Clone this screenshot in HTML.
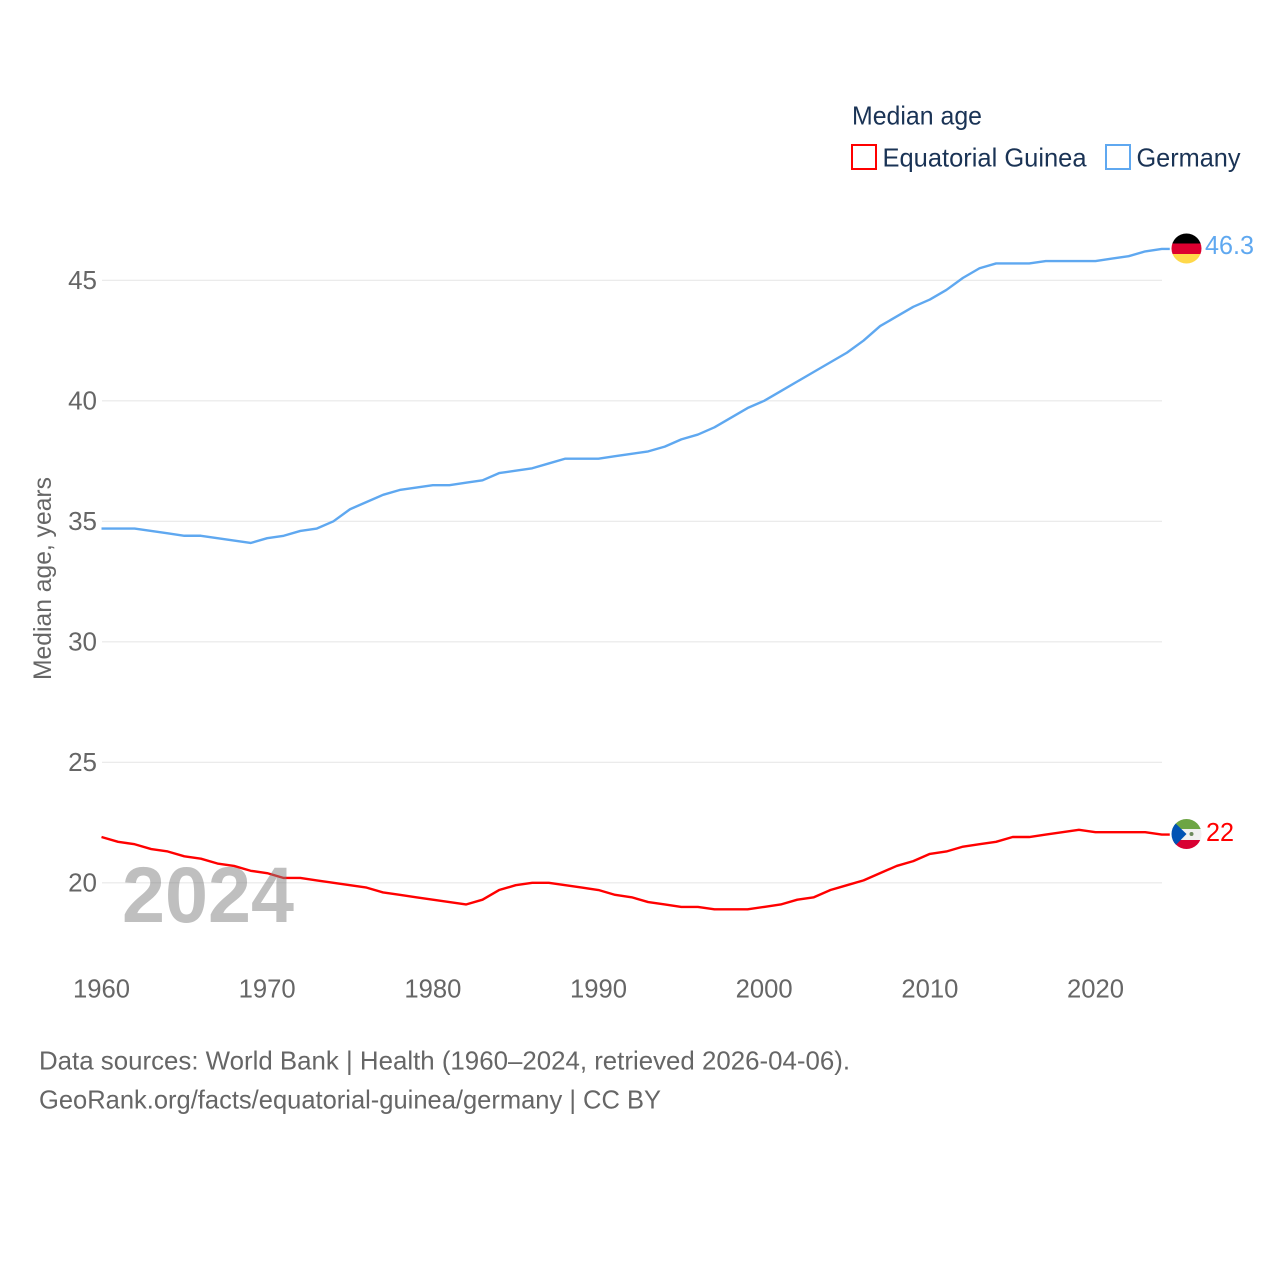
<!DOCTYPE html>
<html>
<head>
<meta charset="utf-8">
<title>Median age: Equatorial Guinea vs Germany</title>
<style>
html,body{margin:0;padding:0;background:#fff;width:1280px;height:1280px;overflow:hidden}
svg{display:block}
text{font-family:"Liberation Sans",sans-serif}
</style>
</head>
<body>
<svg id="chart" xmlns="http://www.w3.org/2000/svg" width="1280" height="1280" viewBox="0 0 1280 1280">
  <defs>
    <clipPath id="flag-de-clip"><circle cx="1186.5" cy="248.5" r="15"/></clipPath>
    <clipPath id="flag-gq-clip"><circle cx="1186.5" cy="834" r="15"/></clipPath>
  </defs>
  <g id="grid"></g>
  <g id="yticks"></g>
  <g id="xticks"></g>
  <g id="series"></g>

  <text x="122" y="922" font-size="79" font-weight="bold" fill="#808080" fill-opacity="0.5" textLength="172" lengthAdjust="spacingAndGlyphs">2024</text>

  <text transform="translate(51,680) rotate(-90)" font-size="25" fill="#666666" textLength="203" lengthAdjust="spacingAndGlyphs">Median age, years</text>

  <g>
    <text x="852" y="124.5" font-size="26" fill="#1a3355" textLength="130" lengthAdjust="spacingAndGlyphs">Median age</text>
    <rect x="852" y="145" width="24" height="24" fill="#fff" stroke="#ff0000" stroke-width="2"/>
    <text x="882.5" y="166.5" font-size="26" fill="#1a3355" textLength="204" lengthAdjust="spacingAndGlyphs">Equatorial Guinea</text>
    <rect x="1106" y="145" width="24" height="24" fill="#fff" stroke="#5fa8f0" stroke-width="2"/>
    <text x="1136.5" y="166.5" font-size="26" fill="#1a3355" textLength="104" lengthAdjust="spacingAndGlyphs">Germany</text>
  </g>

  <g clip-path="url(#flag-de-clip)">
    <rect x="1171" y="233" width="31" height="10.5" fill="#000000"/>
    <rect x="1171" y="243.5" width="31" height="10.5" fill="#dd0030"/>
    <rect x="1171" y="254" width="31" height="10" fill="#ffd84a"/>
  </g>
  <text x="1205" y="254" font-size="26" fill="#5fa8f0" textLength="49" lengthAdjust="spacingAndGlyphs">46.3</text>

  <g clip-path="url(#flag-gq-clip)">
    <rect x="1171" y="819" width="31" height="10" fill="#6da544"/>
    <rect x="1171" y="829" width="31" height="11" fill="#f0f0f0"/>
    <rect x="1171" y="840" width="31" height="10" fill="#d80032"/>
    <polygon points="1171,819 1186.5,834 1171,850" fill="#0052b4"/>
    <circle cx="1191.5" cy="834" r="2" fill="#6c8a5c"/>
  </g>
  <text x="1206" y="841" font-size="26" fill="#ff0000" textLength="28" lengthAdjust="spacingAndGlyphs">22</text>

  <g>
    <text x="39" y="1069.5" font-size="26" fill="#666666" textLength="811" lengthAdjust="spacingAndGlyphs">Data sources: World Bank | Health (1960–2024, retrieved 2026-04-06).</text>
    <text x="39" y="1108.5" font-size="26" fill="#666666" textLength="622" lengthAdjust="spacingAndGlyphs">GeoRank.org/facts/equatorial-guinea/germany | CC BY</text>
  </g>
</svg>
<script>
const startYear = 1960;
const germanyValues = [34.7,34.7,34.7,34.6,34.5,34.4,34.4,34.3,34.2,34.1,34.3,34.4,34.6,34.7,35.0,35.5,35.8,36.1,36.3,36.4,36.5,36.5,36.6,36.7,37.0,37.1,37.2,37.4,37.6,37.6,37.6,37.7,37.8,37.9,38.1,38.4,38.6,38.9,39.3,39.7,40.0,40.4,40.8,41.2,41.6,42.0,42.5,43.1,43.5,43.9,44.2,44.6,45.1,45.5,45.7,45.7,45.7,45.8,45.8,45.8,45.8,45.9,46.0,46.2,46.3];
const equatorialGuineaValues = [21.9,21.7,21.6,21.4,21.3,21.1,21.0,20.8,20.7,20.5,20.4,20.2,20.2,20.1,20.0,19.9,19.8,19.6,19.5,19.4,19.3,19.2,19.1,19.3,19.7,19.9,20.0,20.0,19.9,19.8,19.7,19.5,19.4,19.2,19.1,19.0,19.0,18.9,18.9,18.9,19.0,19.1,19.3,19.4,19.7,19.9,20.1,20.4,20.7,20.9,21.2,21.3,21.5,21.6,21.7,21.9,21.9,22.0,22.1,22.2,22.1,22.1,22.1,22.1,22.0];
const yTickValues = [20,25,30,35,40,45];
const xTickValues = [1960,1970,1980,1990,2000,2010,2020];

const NS = 'http://www.w3.org/2000/svg';
function xScale(year){ return 101.5 + (year - 1960) * (1095.5 - 101.5) / 60; }
function yScale(v){ return 882.8 - (v - 20) * (882.8 - 280.3) / 25; }

const gridGroup = document.getElementById('grid');
const yGroup = document.getElementById('yticks');
const xGroup = document.getElementById('xticks');
const seriesGroup = document.getElementById('series');

yTickValues.forEach(function(v){
  const line = document.createElementNS(NS, 'line');
  
  
  line.setAttribute('x1', 102);
  line.setAttribute('x2', 1162);
  line.setAttribute('y1', yScale(v));
  line.setAttribute('y2', yScale(v));
  line.setAttribute('stroke', '#e8e8e8');
  line.setAttribute('stroke-width', '1.2');
  gridGroup.appendChild(line);

  const label = document.createElementNS(NS, 'text');
  
  
  label.setAttribute('x', 97);
  label.setAttribute('y', yScale(v) + 8.5);
  label.setAttribute('text-anchor', 'end');
  label.setAttribute('font-size', '26');
  label.setAttribute('fill', '#666666');
  label.textContent = v;
  yGroup.appendChild(label);
});

xTickValues.forEach(function(year){
  const label = document.createElementNS(NS, 'text');
  
  
  label.setAttribute('x', xScale(year));
  label.setAttribute('y', 997.5);
  label.setAttribute('text-anchor', 'middle');
  label.setAttribute('font-size', '26');
  label.setAttribute('fill', '#666666');
  label.setAttribute('textLength', '57');
  label.setAttribute('lengthAdjust', 'spacingAndGlyphs');
  label.textContent = year;
  xGroup.appendChild(label);
});

function pointsFor(values){
  const pts = values.map(function(v, i){
    return xScale(startYear + i).toFixed(2) + ',' + yScale(v).toFixed(2);
  });
  pts.push((xScale(startYear + values.length - 1) + 8).toFixed(2) + ',' + yScale(values[values.length - 1]).toFixed(2));
  return pts.join(' ');
}

const germanyLine = document.createElementNS(NS, 'polyline');


germanyLine.setAttribute('points', pointsFor(germanyValues));
germanyLine.setAttribute('fill', 'none');
germanyLine.setAttribute('stroke', '#5fa8f0');
germanyLine.setAttribute('stroke-width', '2.4');
germanyLine.setAttribute('stroke-linejoin', 'round');
seriesGroup.appendChild(germanyLine);

const guineaLine = document.createElementNS(NS, 'polyline');


guineaLine.setAttribute('points', pointsFor(equatorialGuineaValues));
guineaLine.setAttribute('fill', 'none');
guineaLine.setAttribute('stroke', '#ff0000');
guineaLine.setAttribute('stroke-width', '2.4');
guineaLine.setAttribute('stroke-linejoin', 'round');
seriesGroup.appendChild(guineaLine);
</script>
</body>
</html>
